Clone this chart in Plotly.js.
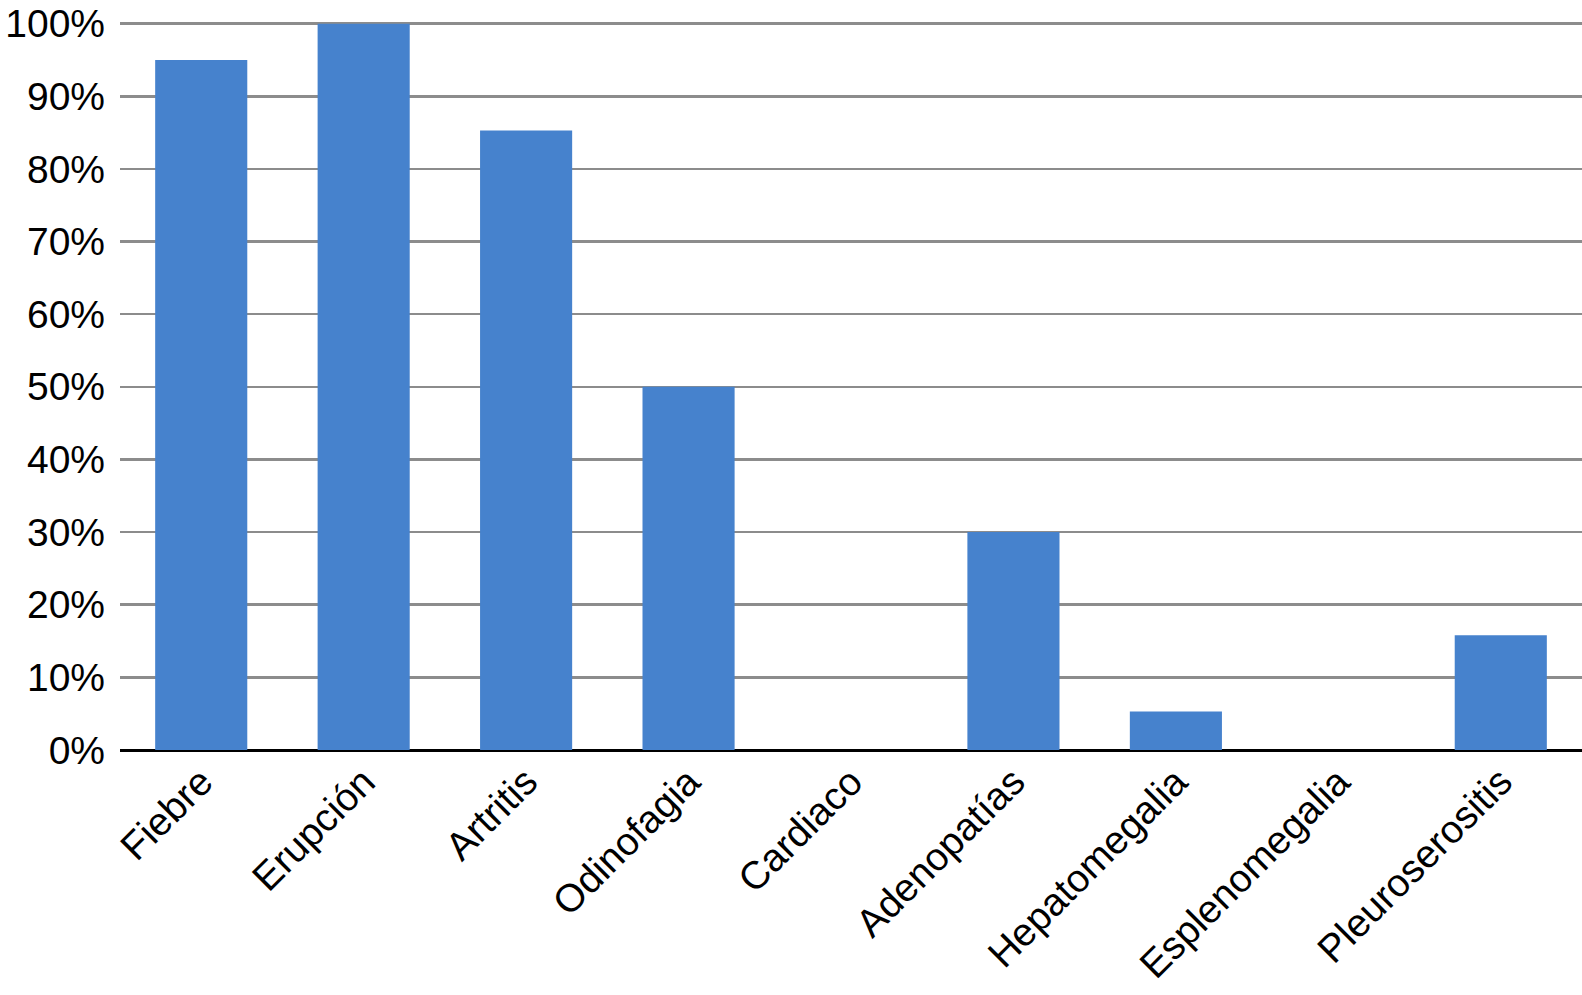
<!DOCTYPE html>
<html>
<head>
<meta charset="utf-8">
<script src="https://cdn.plot.ly/plotly-3.0.1.min.js"></script>
<style>html,body{margin:0;padding:0;background:#fff;}#chart{width:1582px;height:995px;}</style>
</head>
<body>
<div id="chart"></div>
<script>
const categories = ["Fiebre", "Erupción", "Artritis", "Odinofagia", "Cardiaco", "Adenopatías", "Hepatomegalia", "Esplenomegalia", "Pleuroserositis"];
const values = [95, 100, 85.3, 50, 0, 30, 5.3, 0, 15.8];
const yTickVals = [0, 10, 20, 30, 40, 50, 60, 70, 80, 90, 100];
const yTickText = ["0%", "10%", "20%", "30%", "40%", "50%", "60%", "70%", "80%", "90%", "100%"];

const trace = {
  type: "bar",
  x: categories,
  y: values,
  marker: { color: "#4682cd", line: { width: 0 } },
  hoverinfo: "x+y"
};

const layout = {
  width: 1582,
  height: 995,
  margin: { l: 120, r: 0, t: 20, b: 245 },
  paper_bgcolor: "#ffffff",
  plot_bgcolor: "#ffffff",
  showlegend: false,
  bargap: 0.433,
  font: { family: "Liberation Sans, Arial, sans-serif", color: "#000000", size: 39 },
  xaxis: {
    type: "category",
    tickangle: -45,
    showgrid: false,
    showline: false,
    ticks: "",
    tickfont: { size: 39, color: "#000000" },
    automargin: false,
    fixedrange: true
  },
  yaxis: {
    range: [0, 100.5],
    tickvals: yTickVals,
    ticktext: yTickText,
    showgrid: true,
    gridcolor: "#8c8c8c",
    gridwidth: 2.5,
    zeroline: true,
    zerolinecolor: "#000000",
    zerolinewidth: 3,
    showline: false,
    ticks: "",
    ticklabelstandoff: 14,
    tickfont: { size: 39, color: "#000000" },
    automargin: false,
    fixedrange: true
  }
};

Plotly.newPlot("chart", [trace], layout, { displayModeBar: false, staticPlot: true });
</script>
</body>
</html>
